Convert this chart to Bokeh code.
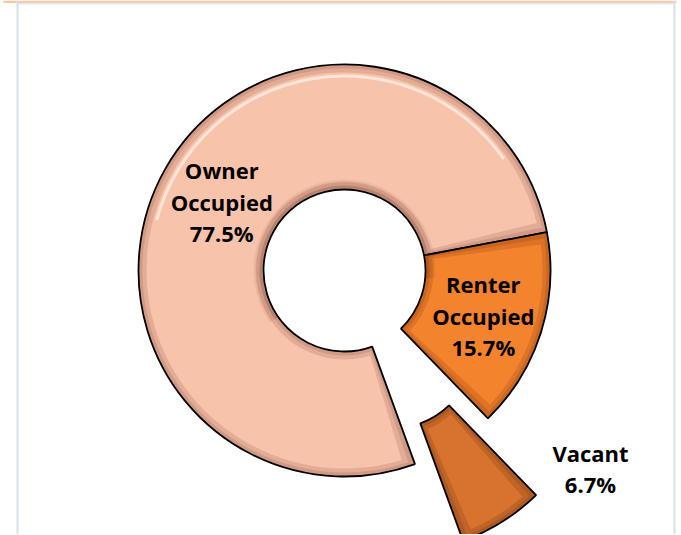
import numpy as np
from bokeh.plotting import figure
from bokeh.models import Range1d, Span, BoxAnnotation, ColumnDataSource
from bokeh.core.properties import value
from bokeh.embed import file_html
from bokeh.resources import INLINE

# ---- data ----
categories = ["Owner\nOccupied", "Renter\nOccupied", "Vacant"]
shares = [77.5, 15.7, 6.7]

# ---- style ----
main_colors = ["#F8C3AB", "#F5832E", "#D8732F"]
rim_colors = ["#D29A85", "#C9661F", "#AE5A22"]
explode = [0.0, 0.0, 0.44]          # fraction of outer radius
first_slice_deg = 160.0              # clockwise from 12 o'clock
CX, CY = 344.0, 535.0 - 270.0
R_OUT, R_IN = 206.0, 81.0
FONT = "Open Sans"

W, H = 680, 534
p = figure(width=W, height=H, x_range=Range1d(0, W), y_range=Range1d(535 - H, 535),
           output_backend="svg", toolbar_location=None, min_border=0)
p.axis.visible = False
p.grid.visible = False
p.outline_line_color = None
p.background_fill_color = "white"

# chart frame
p.add_layout(BoxAnnotation(bottom=532.5, top=535, left=3, right=676, fill_color="#F9C8A4",
                           fill_alpha=1, line_color=None))
p.add_layout(BoxAnnotation(bottom=531, top=532.5, left=17, right=674, fill_color="#E3E9F0",
                           fill_alpha=1, line_color=None))
p.add_layout(Span(location=17, dimension="height", line_color="#D8E0EA", line_width=2))
p.add_layout(Span(location=674, dimension="height", line_color="#D8E0EA", line_width=2))

vals = np.array(shares, dtype=float)
frac = vals / vals.sum()
cw_start = np.radians(first_slice_deg) + 2 * np.pi * np.concatenate([[0], np.cumsum(frac)[:-1]])
cw_end = cw_start + 2 * np.pi * frac
b_start = np.pi / 2 - cw_end
b_end = np.pi / 2 - cw_start
b_mid = (b_start + b_end) / 2
off = np.array(explode) * R_OUT
xs = CX + off * np.cos(b_mid)
ys = CY + off * np.sin(b_mid)

src = ColumnDataSource(dict(x=xs, y=ys, s=b_start, e=b_end, main=main_colors, rim=rim_colors))

# base (rim) wedges with outline
p.annular_wedge(x="x", y="y", inner_radius=R_IN, outer_radius=R_OUT, start_angle="s", end_angle="e",
                fill_color="rim", line_color="black", line_width=1.8, source=src)

# inset body
d = 8.0
ins = d / ((R_IN + R_OUT) / 2)
src2 = ColumnDataSource(dict(x=xs, y=ys, s=b_start + ins, e=b_end - ins, main=main_colors))
p.annular_wedge(x="x", y="y", inner_radius=R_IN + d, outer_radius=R_OUT - d, start_angle="s", end_angle="e",
                fill_color="main", line_color=None, source=src2)
# soft transition band
p.annular_wedge(x="x", y="y", inner_radius=R_IN + d * 0.5, outer_radius=R_OUT - d * 0.5,
                start_angle="s", end_angle="e", fill_color="main", fill_alpha=0.45, line_color=None,
                source=ColumnDataSource(dict(x=xs, y=ys, s=b_start + ins / 2, e=b_end - ins / 2, main=main_colors)))

# highlight near outer top edge of the owner slice
p.annular_wedge(x=CX, y=CY, inner_radius=R_OUT - 13, outer_radius=R_OUT - 10,
                start_angle=np.radians(35), end_angle=np.radians(165),
                fill_color="white", fill_alpha=0.55, line_color=None)
# shadow around the hole (top part)
for k, a in enumerate([0.25, 0.15, 0.08]):
    p.annular_wedge(x=CX, y=CY, inner_radius=R_IN + 1 + 3 * k, outer_radius=R_IN + 4 + 3 * k,
                    start_angle=np.radians(-5), end_angle=np.radians(215),
                    fill_color="#6B3A2A", fill_alpha=a, line_color=None)

# labels
labels = [f"{c}\n{v:.1f}%" for c, v in zip(categories, shares)]
r_lab = (R_IN + R_OUT) / 2
lx = [CX + r_lab * np.cos(b_mid[0]) + 2, CX + r_lab * np.cos(b_mid[1]) + 2, 590]
ly = [CY + r_lab * np.sin(b_mid[0]) - 2, CY + r_lab * np.sin(b_mid[1]) - 2, 535 - 468]
p.text(x=lx, y=ly, text=labels, text_font=value(FONT), text_font_style="bold",
       text_font_size="22px", text_color="black", text_align="center", text_baseline="middle",
       text_line_height=1.05)

open("out.html", "w").write(file_html(p, INLINE))
